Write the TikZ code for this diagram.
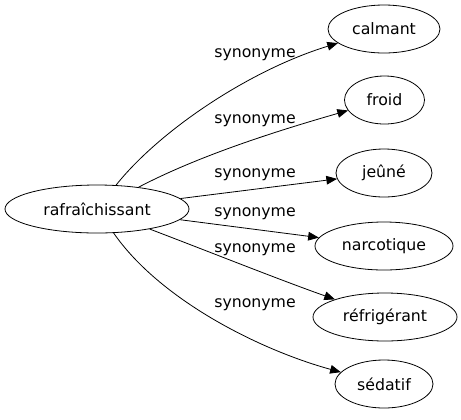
\documentclass[tikz,border=0pt]{standalone}
\usepackage{fontspec}
\setmainfont{DejaVu Sans}
\usepackage{tikz,xcolor}
\usetikzlibrary{arrows.meta,shapes.geometric}
\tikzset{
	word/.style={draw, ellipse, inner sep=0pt, minimum height=36pt},
	syn/.style={line width=0.6pt, -{Triangle[length=8pt, width=6.5pt]}},
	synlabel/.style={inner sep=0pt}
	}

\begin{document}
\begin{tikzpicture}[x=0.75pt, y=-0.75pt, line width=0.6pt, font=\fontsize{11.8}{14}\selectfont]

	\useasboundingbox (0,0) rectangle (461,419);

	% source word
	\node[word, minimum width=138pt] (rafraichissant) at (97,209) {rafraîchissant};

	% synonyms
	\node[word, minimum width=84pt] (calmant) at (384,29) {calmant};
	\node[word, minimum width=60pt] (froid) at (384.5,100) {froid};
	\node[word, minimum width=72pt] (jeune) at (384,173) {jeûné};
	\node[word, minimum width=103.5pt] (narcotique) at (384,246) {narcotique};
	\node[word, minimum width=108pt] (refrigerant) at (385,317) {réfrigérant};
	\node[word, minimum width=73.5pt] (sedatif) at (384,384) {sédatif};

	% edges
	\draw[syn] (rafraichissant) .. controls (160,130) and (250,70) .. (calmant);
	\draw[syn] (rafraichissant) .. controls (200,155) and (280,130) .. (froid);
	\draw[syn] (rafraichissant) -- (jeune);
	\draw[syn] (rafraichissant) -- (narcotique);
	\draw[syn] (rafraichissant) .. controls (210,252) and (280,280) .. (refrigerant);
	\draw[syn] (rafraichissant) .. controls (160,300) and (260,350) .. (sedatif);

	% edge labels
	\node[synlabel] (l1) at (255,55) {synonyme};
	\node[synlabel] (l2) at (255,121) {synonyme};
	\node[synlabel] (l3) at (255,175) {synonyme};
	\node[synlabel] (l4) at (255,214) {synonyme};
	\node[synlabel] (l5) at (255,250) {synonyme};
	\node[synlabel] (l6) at (255,305) {synonyme};

\end{tikzpicture}
\end{document}
